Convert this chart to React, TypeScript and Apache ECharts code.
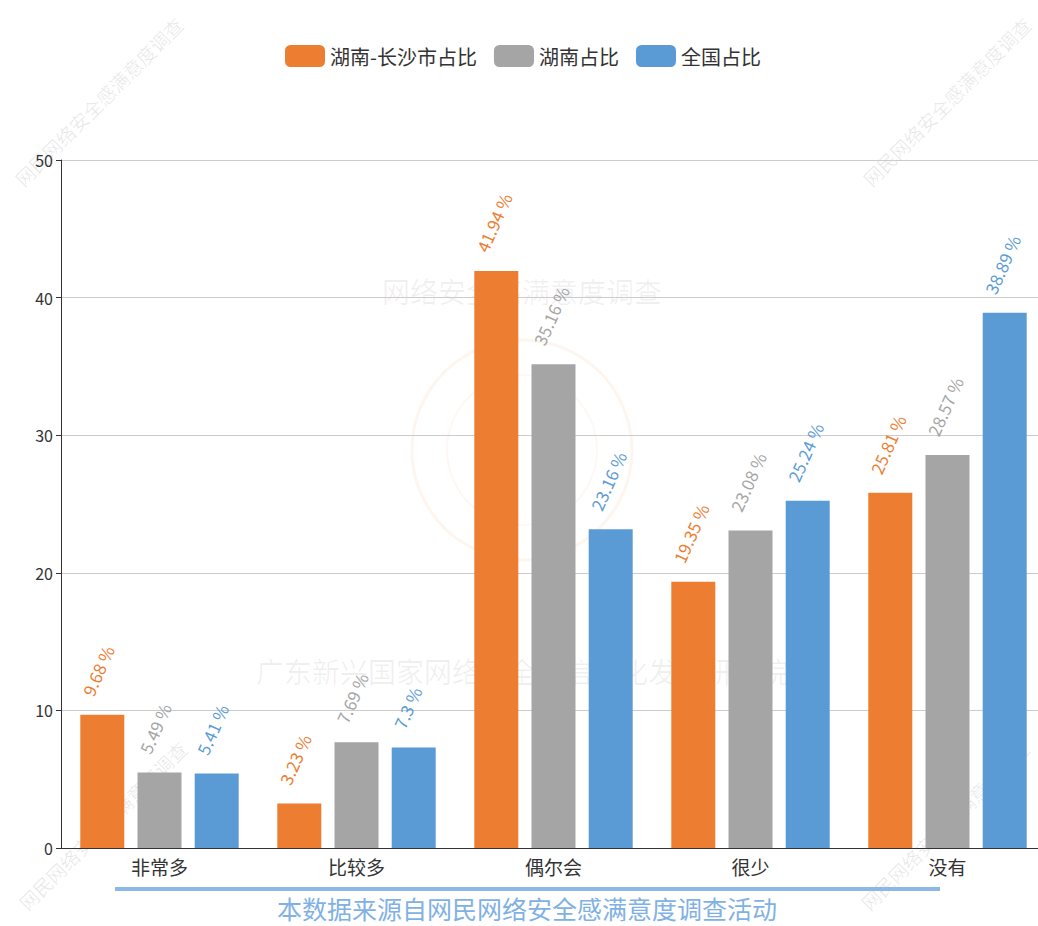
import React, { useEffect, useRef } from "react";
import * as echarts from "echarts";

const categories = ["非常多", "比较多", "偶尔会", "很少", "没有"];
const seriesNames = ["湖南-长沙市占比", "湖南占比", "全国占比"];
const changshaValues = [9.68, 3.23, 41.94, 19.35, 25.81];
const hunanValues = [5.49, 7.69, 35.16, 23.08, 28.57];
const nationalValues = [5.41, 7.3, 23.16, 25.24, 38.89];
const seriesColors = ["#ed7d31", "#a5a5a5", "#5b9bd5"];
const yTicks = { min: 0, max: 50, interval: 10 };
const footnote = "本数据来源自网民网络安全感满意度调查活动";
const cornerMark = "网民网络安全感满意度调查";
const centerMark1 = "网络安全感满意度调查";
const centerMark2 = "广东新兴国家网络安全和信息化发展研究院";

const FONT = "'Noto Sans CJK SC', 'Noto Sans', sans-serif";

export default function App() {
  const ref = useRef<HTMLDivElement>(null);
  useEffect(() => {
    if (!ref.current) return;
    const chart = echarts.init(ref.current, null, { renderer: "svg" });
    const values = [changshaValues, hunanValues, nationalValues];
    const wmStyle = { fill: "rgba(0,0,0,0.09)", fontSize: 19, fontFamily: FONT, verticalAlign: "middle", align: "left" };
    const corner = (x: number, y: number) => ({
      type: "text", x, y, rotation: Math.PI / 4, z: -10, silent: true,
      style: { ...wmStyle, text: cornerMark },
    });
    chart.setOption({
      animation: false,
      textStyle: { fontFamily: FONT },
      legend: {
        top: 40,
        left: "center",
        itemWidth: 40,
        itemHeight: 22,
        itemGap: 17,
        icon: "roundRect",
        textStyle: { fontSize: 20, color: "#333", fontFamily: FONT },
        data: seriesNames,
      },
      grid: { left: 61, right: 0, top: 160, bottom: 78 },
      xAxis: {
        type: "category",
        data: categories,
        axisLine: { lineStyle: { color: "#333" } },
        axisTick: { length: 6, lineStyle: { color: "#333" } },
        axisLabel: { fontSize: 19, color: "#333", margin: 9, fontFamily: FONT },
      },
      yAxis: {
        type: "value",
        min: yTicks.min,
        max: yTicks.max,
        interval: yTicks.interval,
        axisLine: { show: true, lineStyle: { color: "#333" } },
        axisTick: { show: true, length: 5, lineStyle: { color: "#333" } },
        axisLabel: { fontSize: 16, color: "#333", margin: 8, fontFamily: FONT },
        splitLine: { lineStyle: { color: "#ccc" } },
      },
      series: seriesNames.map((name, i) => ({
        name,
        type: "bar",
        data: values[i],
        barWidth: 44,
        barGap: "30%",
        z: 2,
        itemStyle: { color: seriesColors[i] },
        label: {
          show: true,
          position: "top",
          distance: 20,
          rotate: 66,
          align: "left",
          verticalAlign: "middle",
          offset: [-6, -14],
          formatter: "{c} %",
          fontSize: 17,
          color: seriesColors[i],
          fontFamily: FONT,
        },
      })),
      graphic: [
        corner(18, 182),
        corner(866, 182),
        corner(22, 906),
        corner(864, 906),
        {
          type: "circle", z: -10, silent: true,
          shape: { cx: 522, cy: 450, r: 110 },
          style: { fill: "none", stroke: "rgba(237,125,49,0.08)", lineWidth: 3 },
        },
        {
          type: "circle", z: -10, silent: true,
          shape: { cx: 522, cy: 450, r: 75 },
          style: { fill: "none", stroke: "rgba(237,125,49,0.06)", lineWidth: 2 },
        },
        {
          type: "text", x: 522, y: 291, z: -10, silent: true,
          style: { text: centerMark1, fontSize: 28, fill: "rgba(0,0,0,0.06)", align: "center", verticalAlign: "middle", fontFamily: FONT },
        },
        {
          type: "text", x: 522, y: 671, z: -10, silent: true,
          style: { text: centerMark2, fontSize: 28, fill: "rgba(0,0,0,0.06)", align: "center", verticalAlign: "middle", fontFamily: FONT },
        },
        {
          type: "line", silent: true,
          shape: { x1: 115, y1: 889, x2: 940, y2: 889 },
          style: { stroke: "#8cb8e8", lineWidth: 4 },
        },
        {
          type: "text", x: 527, y: 908, silent: true,
          style: { text: footnote, fontSize: 25, fill: "#7fb1e4", align: "center", verticalAlign: "middle", fontFamily: FONT },
        },
      ],
    });
    return () => chart.dispose();
  }, []);
  return (
    <div style={{ position: "fixed", left: 0, top: 0, width: 1038, height: 926, overflow: "hidden", background: "#fff" }}>
      <div ref={ref} style={{ width: 1046, height: 926 }} />
    </div>
  );
}
